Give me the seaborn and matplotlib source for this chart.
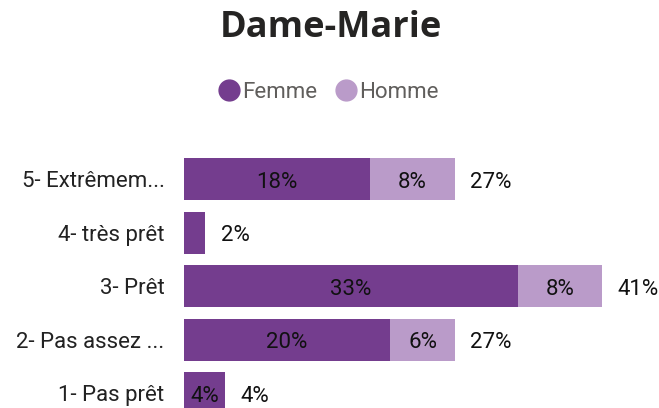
import matplotlib
matplotlib.use("Agg")
import matplotlib.pyplot as plt
from matplotlib.lines import Line2D
import seaborn as sns
import pandas as pd

categories = ["5- Extrêmem...", "4- très prêt", "3- Prêt", "2- Pas assez ...", "1- Pas prêt"]
femme = [18.4, 2.1, 33.0, 20.4, 4.1]
homme = [8.4, 0.0, 8.4, 6.4, 0.0]
series_names = ["Femme", "Homme"]
title = "Dame-Marie"

C_F = "#743D8E"
C_H = "#BA9BC9"

sns.set_theme(style="white")
plt.rcParams["font.family"] = ["Roboto", "DejaVu Sans"]

totals = [f + h for f, h in zip(femme, homme)]
df = pd.DataFrame({"cat": categories, "Femme": femme, "Homme": homme, "Total": totals})

fig = plt.figure(figsize=(6.59, 4.08), dpi=100)
ax = fig.add_axes([184 / 659, 0, 475 / 659, 268 / 408])

sns.barplot(data=df, y="cat", x="Total", color=C_H, orient="h", width=0.785,
            saturation=1, ax=ax, order=categories, linewidth=0)
sns.barplot(data=df, y="cat", x="Femme", color=C_F, orient="h", width=0.785,
            saturation=1, ax=ax, order=categories, linewidth=0)

ax.set_xlim(0, 47.0)
ax.set_ylim(4.28, -0.73)
for s in ax.spines.values():
    s.set_visible(False)
ax.set_xticks([])
ax.set_xlabel("")
ax.set_ylabel("")
ax.tick_params(axis="y", length=0, pad=14, labelsize=16, labelcolor="#222222")

fs = 16
for i, (f, h, t) in enumerate(zip(femme, homme, totals)):
    if f >= 3:
        ax.text(f / 2, i + 0.06, f"{f:.0f}%", ha="center", va="center", fontsize=fs, color="#111111")
    if h >= 3:
        ax.text(f + h / 2, i + 0.06, f"{h:.0f}%", ha="center", va="center", fontsize=fs, color="#111111")
    ax.annotate(f"{t:.0f}%", (t, i + 0.06), xytext=(11, 0), textcoords="offset points",
                ha="left", va="center", fontsize=fs, color="#111111", annotation_clip=False)

fig.text(331 / 659, 1 - 28 / 408, title, ha="center", va="center", fontsize=26,
         fontweight="bold", color="#252423", family=["Open Sans", "DejaVu Sans"])

handles = [Line2D([], [], marker="o", linestyle="", markersize=15, color=c)
           for c in (C_F, C_H)]
fig.legend(handles, series_names, loc="center", bbox_to_anchor=(327 / 659, 1 - 92 / 408),
           ncol=2, frameon=False, fontsize=16, labelcolor="#605E5C", handletextpad=0.0,
           columnspacing=0.7, handlelength=1.2)

fig.savefig("out.png", dpi=100)
